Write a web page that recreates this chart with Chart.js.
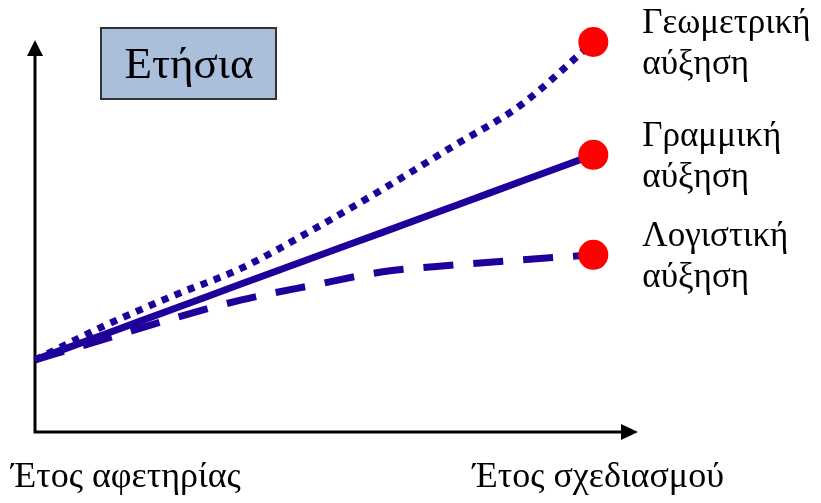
<!DOCTYPE html>
<html>
<head>
<meta charset="utf-8">
<script src="https://cdn.jsdelivr.net/npm/chart.js@4.4.1/dist/chart.umd.min.js"></script>
<style>
  html, body { margin: 0; padding: 0; background: #fff; }
  #wrap { width: 821px; height: 503px; }
</style>
</head>
<body>
<div id="wrap"><canvas id="growth"></canvas></div>
<script>
// years since the base year (x) and the value of each growth model (y)
var years = [0, 12, 25, 37, 50, 62, 75, 87, 100];
var geometric = [18.4, 26.8, 34.9, 41.8, 51.8, 61.7, 73.0, 83.4, 99.5];
var linear = [18.4, 24.7, 31.5, 37.8, 44.6, 50.8, 57.6, 63.9, 70.7];
var logistic = [18.4, 23.5, 29.1, 33.7, 37.5, 40.8, 42.6, 43.9, 45.2];

var seriesNames = [['Γεωμετρική', 'αύξηση'], ['Γραμμική', 'αύξηση'], ['Λογιστική', 'αύξηση']];
var axisLabels = ['Έτος αφετηρίας', 'Έτος σχεδιασμού'];
var title = 'Ετήσια';

var lineColor = '#20009a';
var serif = '"Liberation Serif", "DejaVu Serif", serif';

function pts(values) {
    return values.map(function(v, i) { return { x: years[i], y: v }; });
}

// only the last point gets the big red dot
function endDot(ctx) {
    return ctx.dataIndex === years.length - 1 ? 15 : 0;
}

function makeSet(values, dash) {
    return {
        data: pts(values),
        borderColor: lineColor,
        borderWidth: 7,
        borderDash: dash,
        borderCapStyle: 'butt',
        cubicInterpolationMode: 'monotone',
        pointRadius: endDot,
        pointHoverRadius: endDot,
        pointBackgroundColor: '#ff0000',
        pointBorderWidth: 0,
        clip: false
    };
}

// axes with arrows, title box and text labels
var decor = {
    id: 'decor',
    beforeDatasetsDraw: function(chart) {
        var c = chart.ctx;
        var xs = chart.scales.x, ys = chart.scales.y;
        var x0 = xs.getPixelForValue(0), y0 = ys.getPixelForValue(0);
        var xEnd = xs.getPixelForValue(xs.max), yEnd = ys.getPixelForValue(ys.max);
        c.save();
        c.strokeStyle = '#000';
        c.fillStyle = '#000';
        c.lineWidth = 3;
        c.beginPath();
        c.moveTo(x0, y0 + 1.5);
        c.lineTo(x0, yEnd + 14);
        c.moveTo(x0 - 1.5, y0);
        c.lineTo(xEnd - 16, y0);
        c.stroke();
        // y arrow
        c.beginPath();
        c.moveTo(x0, yEnd);
        c.lineTo(x0 - 8, yEnd + 16);
        c.lineTo(x0 + 8, yEnd + 16);
        c.closePath();
        c.fill();
        // x arrow
        c.beginPath();
        c.moveTo(xEnd, y0);
        c.lineTo(xEnd - 17, y0 - 8);
        c.lineTo(xEnd - 17, y0 + 8);
        c.closePath();
        c.fill();
        c.restore();
    },
    afterDraw: function(chart) {
        var c = chart.ctx;
        var xs = chart.scales.x, ys = chart.scales.y;
        c.save();
        // title box
        c.fillStyle = '#a9bfdc';
        c.fillRect(101, 28, 175, 71);
        c.strokeStyle = '#333';
        c.lineWidth = 2;
        c.strokeRect(101, 28, 175, 71);
        c.fillStyle = '#000';
        c.font = '45px ' + serif;
        c.textAlign = 'center';
        c.textBaseline = 'middle';
        c.fillText(title, 189, 66);

        // series labels next to the end dots
        c.font = '35px ' + serif;
        c.textAlign = 'left';
        var sets = [geometric, linear, logistic];
        sets.forEach(function(values, i) {
            var px = xs.getPixelForValue(years[years.length - 1]) + 49;
            var py = ys.getPixelForValue(values[values.length - 1]) + 2;
            c.fillText(seriesNames[i][0], px, py - 20);
            c.fillText(seriesNames[i][1], px, py + 21);
        });

        // x axis captions under the start and end years
        c.font = '36px ' + serif;
        c.textAlign = 'center';
        c.fillText(axisLabels[0], 126, 478);
        c.fillText(axisLabels[1], xs.getPixelForValue(years[years.length - 1]) + 5, 478);
        c.restore();
    }
};

var chart = new Chart(document.getElementById('growth').getContext('2d'), {
    type: 'line',
    data: {
        datasets: [
            makeSet(geometric, [7, 7]),
            makeSet(linear, []),
            makeSet(logistic, [30, 20])
        ]
    },
    options: {
        responsive: true,
        maintainAspectRatio: false,
        animation: false,
        layout: { padding: { left: 35, right: 183, top: 40, bottom: 71 } },
        plugins: {
            legend: { display: false },
            tooltip: { enabled: false },
            title: { display: false }
        },
        scales: {
            x: { type: 'linear', min: 0, max: 108, display: false },
            y: { min: 0, max: 100, display: false }
        }
    },
    plugins: [decor]
});
</script>
</body>
</html>
